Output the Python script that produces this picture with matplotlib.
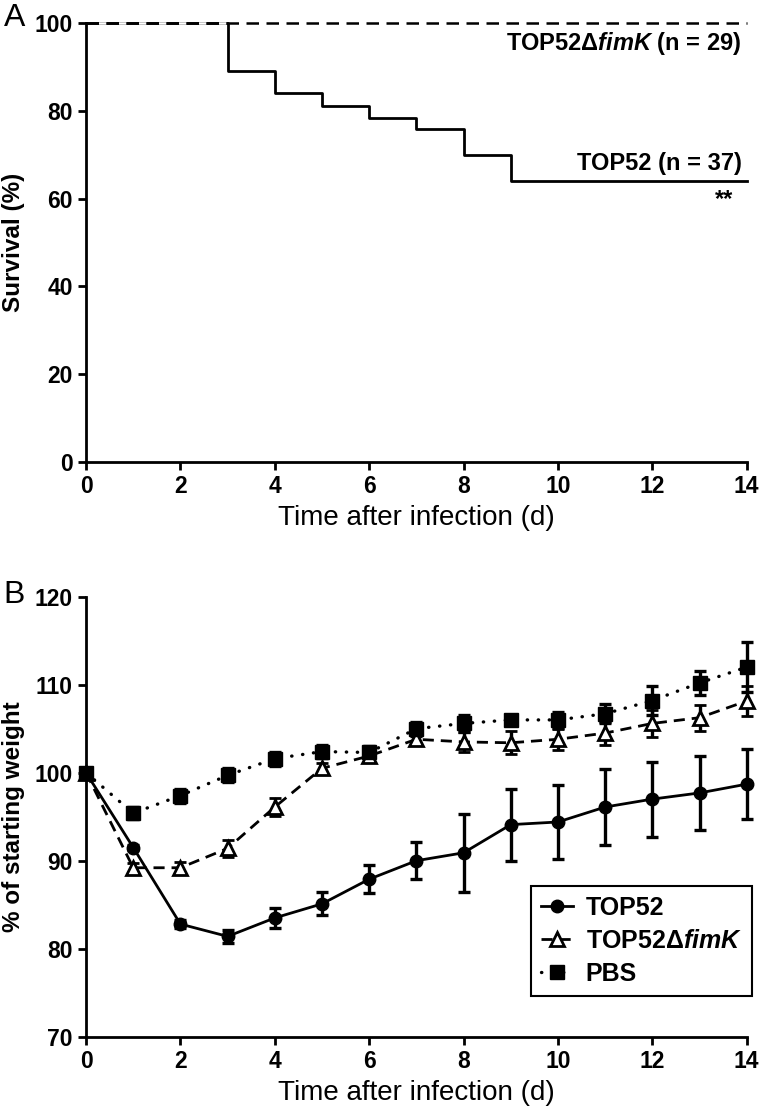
import matplotlib.pyplot as plt
import numpy as np

plt.rcParams['font.family'] = ['Liberation Sans', 'DejaVu Sans']
plt.rcParams['mathtext.fontset'] = 'custom'
plt.rcParams['mathtext.it'] = 'Liberation Sans:bold:italic'
plt.rcParams['mathtext.rm'] = 'Liberation Sans:bold'

# panel A: survival
surv_days = [0, 3, 4, 5, 6, 7, 8, 9, 14]
surv_top52 = [100, 89.2, 84.0, 81.2, 78.5, 75.9, 70.0, 64.1, 64.1]
surv_mut_days = [0, 14]
surv_mut = [100, 100]

# panel B: weight (mean, sem)
days = np.arange(15)
w_top52 = [100, 91.5, 82.8, 81.4, 83.5, 85.1, 87.9, 90.0, 90.9, 94.1, 94.4, 96.1, 97.0, 97.7, 98.7]
e_top52 = [0, 0.3, 0.5, 0.7, 1.1, 1.3, 1.6, 2.1, 4.45, 4.1, 4.25, 4.3, 4.25, 4.2, 3.95]
w_mut = [100, 89.2, 89.2, 91.4, 96.1, 100.5, 101.9, 103.8, 103.5, 103.4, 103.8, 104.5, 105.6, 106.25, 108.15]
e_mut = [0, 0.5, 0.7, 1.0, 1.0, 0.6, 0.5, 0.5, 1.1, 1.3, 1.2, 1.3, 1.5, 1.5, 1.7]
w_pbs = [100, 95.4, 97.4, 99.7, 101.6, 102.4, 102.3, 105.0, 105.6, 106.0, 106.0, 106.7, 108.2, 110.2, 112.0]
e_pbs = [0, 0.7, 0.8, 0.8, 0.8, 0.7, 0.7, 0.8, 1.0, 0.5, 0.9, 1.1, 1.6, 1.4, 2.8]

fig = plt.figure(figsize=(7.6, 11.12), dpi=100)
axA = fig.add_axes([0.1132, 0.5848, 0.8693, 0.3942])
axB = fig.add_axes([0.1132, 0.0677, 0.8693, 0.3957])

def style(ax):
    for s in ['top', 'right']:
        ax.spines[s].set_visible(False)
    for s in ['left', 'bottom']:
        ax.spines[s].set_linewidth(2.0)
    ax.tick_params(direction='out', length=5.5, width=2.0, labelsize=16.5, pad=4)
    for lab in ax.get_xticklabels() + ax.get_yticklabels():
        lab.set_fontweight('bold')
    ax.set_xlim(0, 14)

# ---- A ----
axA.step(surv_days, surv_top52, where='post', color='black', lw=2.0, clip_on=False)
axA.plot(surv_mut_days, surv_mut, color='black', lw=1.8, ls=(0, (5, 3)),
         gapcolor='white', clip_on=False, zorder=3)
axA.set_ylim(0, 100)
axA.set_yticks(range(0, 101, 20))
axA.set_xticks(range(0, 15, 2))
style(axA)
axA.set_ylabel('Survival (%)', fontsize=17.5, fontweight='bold')
axA.yaxis.set_label_coords(-0.093, 0.5)
axA.set_xlabel('Time after infection (d)', fontsize=20, labelpad=5)
axA.text(13.88, 95.5, r'TOP52Δ$\mathit{fimK}$ (n = 29)', ha='right', va='center',
         fontsize=17, fontweight='bold')
axA.text(13.9, 68.1, 'TOP52 (n = 37)', ha='right', va='center',
         fontsize=17, fontweight='bold')
axA.text(13.52, 62.5, '**', ha='center', va='top', fontsize=17, fontweight='bold')
fig.text(0.019, 0.984, 'A', fontsize=23, ha='center', va='center')

# ---- B ----
eb1 = axB.errorbar(days, w_top52, yerr=e_top52, color='black', lw=2.0, marker='o',
                   ms=9, capsize=4.2, elinewidth=2.4, capthick=2.4, clip_on=False)
eb2 = axB.errorbar(days, w_mut, yerr=e_mut, color='black', lw=2.0, ls=(0, (4, 2.5)),
                   marker='^', ms=10, mfc='white', mec='black', mew=2.0,
                   capsize=4.2, elinewidth=2.4, capthick=2.4, clip_on=False)
eb3 = axB.errorbar(days, w_pbs, yerr=e_pbs, color='black', lw=2.4, ls=(0, (0.1, 3.2)),
                   dash_capstyle='round', marker='s', ms=9.5,
                   capsize=4.2, elinewidth=2.4, capthick=2.4, clip_on=False)
axB.set_ylim(70, 120)
axB.set_yticks(range(70, 121, 10))
axB.set_xticks(range(0, 15, 2))
style(axB)
axB.set_ylabel('% of starting weight', fontsize=17.5, fontweight='bold')
axB.yaxis.set_label_coords(-0.093, 0.5)
axB.set_xlabel('Time after infection (d)', fontsize=20, labelpad=5)
leg = axB.legend([eb1.lines[0], eb2.lines[0], eb3.lines[0]],
                 ['TOP52', r'TOP52Δ$\mathit{fimK}$', 'PBS'],
                 loc='upper right', bbox_to_anchor=(1.008, 0.3425),
                 borderaxespad=0, prop={'size': 18, 'weight': 'bold'}, fancybox=False,
                 edgecolor='black', framealpha=1, handlelength=1.3,
                 borderpad=0.4, labelspacing=0.35, handletextpad=0.5,
                 numpoints=1)
leg.get_frame().set_linewidth(1.5)
fig.text(0.019, 0.465, 'B', fontsize=23, ha='center', va='center')

fig.savefig('out.png', dpi=100)
